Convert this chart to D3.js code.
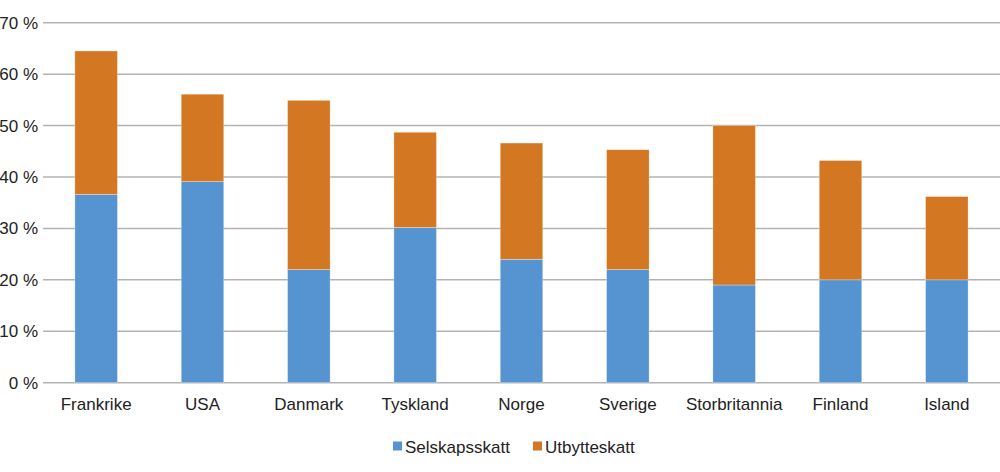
<!DOCTYPE html>
<html>
<head>
<meta charset="utf-8">
<script src="https://cdn.jsdelivr.net/npm/d3@7"></script>
<style>
  body { margin: 0; background: #fff; }
  text { font-family: "Liberation Sans", Arial, sans-serif; fill: #222; }
</style>
</head>
<body>
<div id="chart"></div>
<script>
const countries = ["Frankrike", "USA", "Danmark", "Tyskland", "Norge", "Sverige", "Storbritannia", "Finland", "Island"];
const selskapsskatt = [36.6, 39.1, 22.0, 30.2, 24.0, 22.0, 19.0, 20.0, 20.0];
const utbytteskatt = [27.9, 17.0, 32.9, 18.5, 22.6, 23.3, 31.0, 23.2, 16.2];
const seriesNames = ["Selskapsskatt", "Utbytteskatt"];
const yTicks = [0, 10, 20, 30, 40, 50, 60, 70];

const width = 1000, height = 472;
const margin = {left: 43, right: 0, top: 23, bottom: 90};
const colors = ["#5694d1", "#d47722"];
const fontSize = "17px";

const svg = d3.select("#chart").append("svg")
    .attr("width", width)
    .attr("height", height);

const x = d3.scaleBand()
    .domain(countries)
    .range([margin.left, width - margin.right])
    .paddingInner(0.6)
    .paddingOuter(0.3);

const y = d3.scaleLinear()
    .domain([0, 70])
    .range([height - margin.bottom + 0.7, margin.top - 0.3]);

// gridlines
svg.append("g")
    .selectAll("line")
    .data(yTicks)
    .enter()
    .append("line")
    .attr("x1", margin.left)
    .attr("x2", width)
    .attr("y1", d => y(d))
    .attr("y2", d => y(d))
    .attr("stroke", "#b3b3b3")
    .attr("stroke-width", 1.5);

// y labels
svg.append("g")
    .selectAll("text")
    .data(yTicks)
    .enter()
    .append("text")
    .attr("x", 38)
    .attr("y", d => y(d))
    .attr("dy", "0.35em")
    .attr("text-anchor", "end")
    .style("font-size", fontSize)
    .text(d => d + " %");

const rows = countries.map((c, i) => ({country: c, Selskapsskatt: selskapsskatt[i], Utbytteskatt: utbytteskatt[i]}));
const stacked = d3.stack().keys(seriesNames)(rows);

svg.append("g")
    .selectAll("g")
    .data(stacked)
    .enter()
    .append("g")
    .attr("fill", (d, i) => colors[i])
    .selectAll("rect")
    .data(d => d)
    .enter()
    .append("rect")
    .attr("x", d => x(d.data.country))
    .attr("width", x.bandwidth())
    .attr("y", d => y(d[1]))
    .attr("height", d => y(d[0]) - y(d[1]))
    .attr("stroke", "#fff")
    .attr("stroke-opacity", 0.5)
    .attr("stroke-width", 0.6);

// x labels
svg.append("g")
    .selectAll("text")
    .data(countries)
    .enter()
    .append("text")
    .attr("x", d => x(d) + x.bandwidth() / 2)
    .attr("y", 409.5)
    .attr("text-anchor", "middle")
    .style("font-size", fontSize)
    .text(d => d);

// legend
const legendX = [393, 533];
const legend = svg.append("g")
    .selectAll("g")
    .data(seriesNames)
    .enter()
    .append("g")
    .attr("transform", (d, i) => `translate(${legendX[i]}, 441.5)`);

legend.append("rect")
    .attr("width", 9)
    .attr("height", 9)
    .attr("fill", (d, i) => colors[i]);

legend.append("text")
    .attr("x", 12)
    .attr("y", 11)
    .style("font-size", fontSize)
    .text(d => d);
</script>
</body>
</html>
